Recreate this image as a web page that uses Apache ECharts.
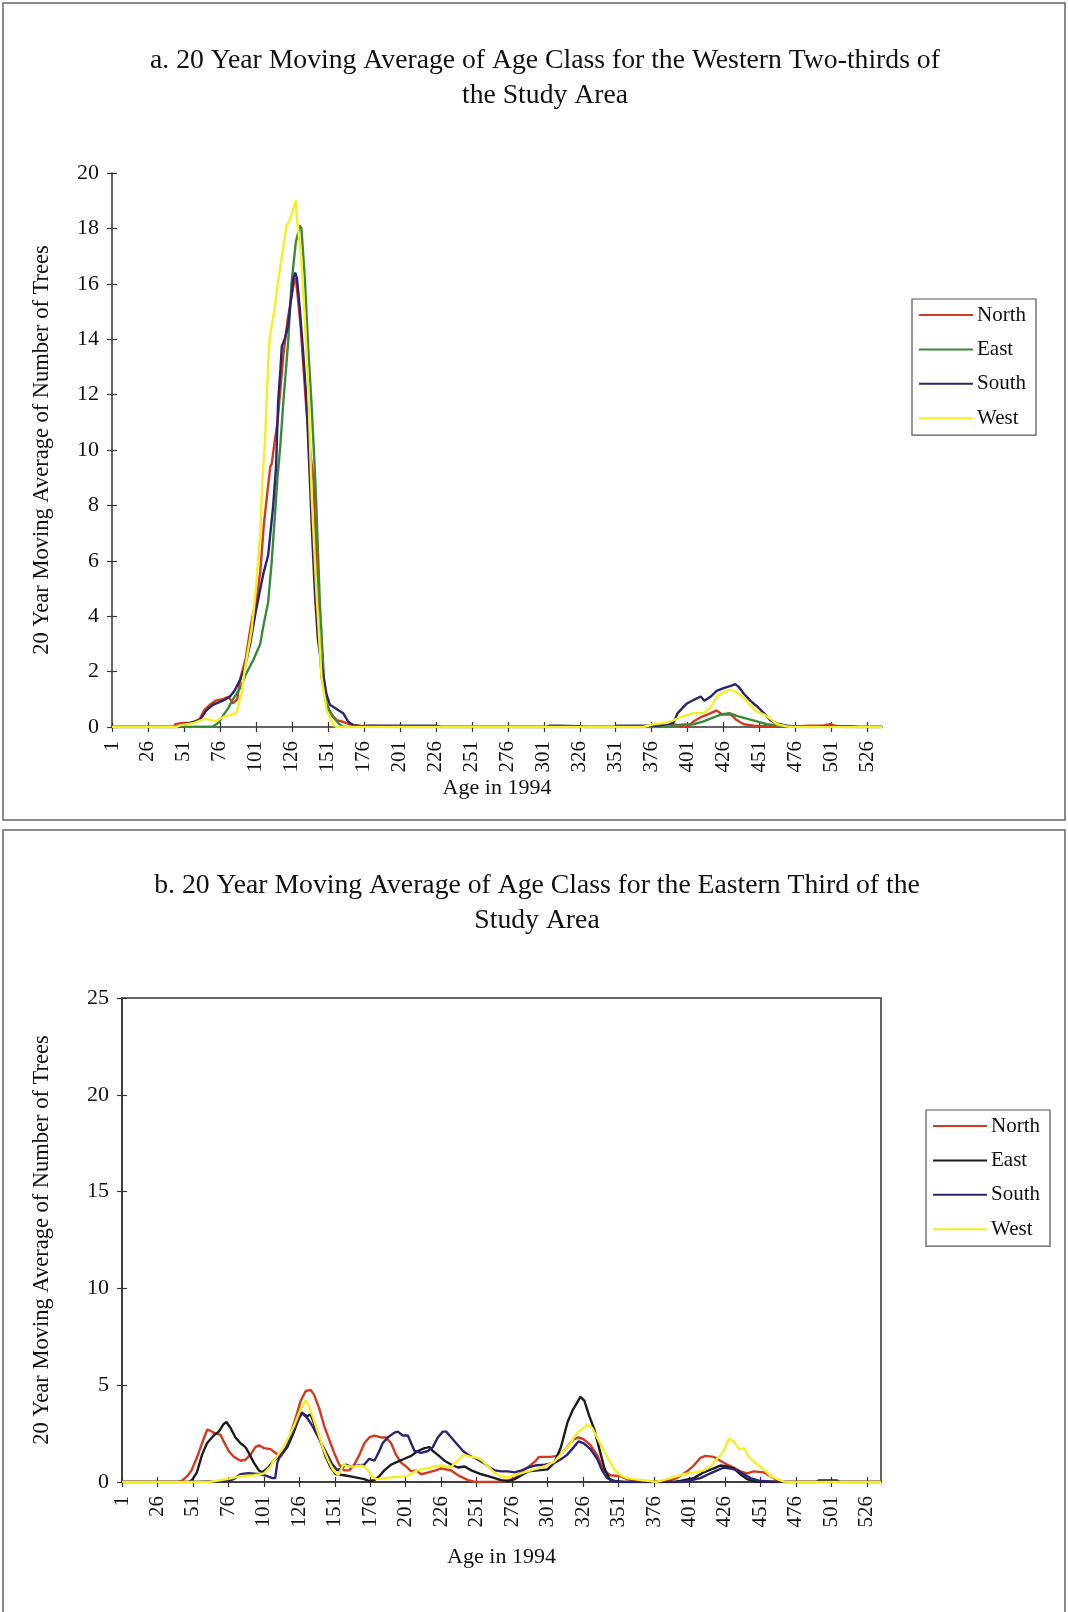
<!DOCTYPE html>
<html>
<head>
<meta charset="utf-8">
<script src="https://cdn.jsdelivr.net/npm/echarts@6/dist/echarts.min.js"></script>
<style>
  html, body { margin: 0; padding: 0; background: #ffffff; }
  #chart { width: 1068px; height: 1612px; }
</style>
</head>
<body>
<div id="chart"></div>
<script>
// ---- data: 20-year moving average of tree counts by age class, [age, value] ----
const ageTicks = [1, 26, 51, 76, 101, 126, 151, 176, 201, 226, 251, 276, 301, 326, 351, 376, 401, 426, 451, 476, 501, 526];
const seriesNames = ['North', 'East', 'South', 'West'];

// a. Western two-thirds of the study area
const aNorth = [[1,0],[44,0],[45,0.1],[50,0.15],[57,0.15],[62,0.3],[65,0.6],[69,0.8],[73,0.95],[78,1.0],[82,1.1],[85,0.85],[88,1.0],[90,1.7],[94,2.5],[97,3.5],[99,4.1],[102,4.8],[104,5.6],[106.5,7.3],[109,8.5],[111,9.4],[112,9.5],[114,10.3],[116,11.0],[120,13.4],[123,14.7],[126,15.6],[128,16.2],[129,16.1],[132,14.5],[136,11.5],[139,9.8],[141,8.9],[143,6.0],[144.5,3.6],[146.6,1.8],[150,0.8],[153,0.5],[157,0.25],[162,0.18],[166,0.1],[173,0.05],[200,0.02],[210,0],[380,0],[382,0.05],[387,0.15],[391,0.1],[395,0.05],[401,0],[405,0.2],[410,0.35],[417,0.5],[421,0.6],[425,0.45],[431,0.45],[435,0.25],[440,0.1],[447,0.05],[456,0.03],[470,0],[485,0.05],[495,0.05],[500,0.1],[503,0.05],[510,0],[536,0]];
const aEast = [[1,0],[52,0],[53,0.02],[71,0.02],[75,0.15],[78,0.4],[82,0.7],[85,1.0],[90,1.4],[94,1.9],[99,2.4],[104,3.0],[106,3.6],[109.5,4.5],[112,6.0],[114,7.5],[116,9.0],[118,10.2],[120,11.7],[123.4,13.9],[125.7,16.0],[128.7,17.5],[131.5,18.1],[132.6,18.0],[135,16.2],[137.3,13.7],[139.6,11.7],[141.9,9.3],[143,7.95],[145.4,4.5],[148.2,1.8],[150,0.85],[152,0.6],[154.7,0.35],[159,0.1],[162,0],[386,0],[387,0.02],[396,0.08],[405,0.1],[412,0.2],[419,0.35],[424,0.45],[430,0.5],[435,0.4],[442,0.3],[449,0.2],[456,0.1],[465,0.05],[475,0],[536,0]];
const aSouth = [[1,0],[47,0],[48,0.05],[55,0.15],[62,0.25],[66.6,0.6],[71,0.8],[78,0.95],[83,1.1],[86,1.3],[90,1.7],[93,2.1],[97,3.0],[101,4.2],[106,5.5],[109.5,6.2],[113,8.0],[115,9.4],[116.4,11.7],[118,12.9],[119,13.75],[121,14.0],[123.4,14.5],[124.6,15.1],[127,16.2],[128.3,16.4],[129.5,16.2],[131.5,15.1],[134,13.4],[136.2,11.7],[138,9.5],[140,7.0],[142,4.8],[144,3.2],[146.6,2.2],[150,1.2],[152.4,0.8],[157,0.65],[161.6,0.5],[165,0.2],[168.6,0.06],[175,0.03],[180,0.05],[225,0.05],[230,0],[303,0],[305,0.05],[310,0.05],[326,0.03],[330,0],[350,0],[352,0.05],[380,0.05],[387,0.1],[391,0.15],[394,0.5],[400.5,0.85],[406,1.0],[410,1.1],[412.6,0.95],[417,1.1],[421,1.3],[426,1.4],[432,1.5],[434,1.55],[436.4,1.45],[440,1.2],[444.5,0.95],[449,0.75],[454,0.5],[458.4,0.25],[463,0.12],[470,0.05],[475,0.02],[490,0],[495,0.03],[515,0.03],[520,0],[536,0]];
const aWest = [[1,0],[46,0],[48,0.05],[58,0.15],[66,0.3],[73,0.2],[78,0.35],[84,0.45],[87.5,0.5],[91,1.2],[93,2.0],[98,3.5],[101,5.0],[104,7.0],[105.6,9.0],[107.2,10.2],[109.6,13.2],[110.7,14.1],[114,15.1],[117,16.3],[120,17.3],[122.2,18.1],[124.6,18.3],[128.7,19.0],[129.6,18.3],[132.2,17.1],[135,14.7],[137.3,12.3],[139.7,8.4],[143.1,4.8],[146.6,1.8],[150.1,0.6],[154.7,0.07],[157,0],[370,0],[377,0.1],[386.6,0.15],[393.6,0.3],[396,0.36],[405,0.5],[412,0.5],[416.7,0.7],[421.4,1.1],[426,1.25],[430.6,1.35],[433,1.3],[436.4,1.2],[440,1.05],[444.5,0.8],[449,0.55],[454,0.45],[458.4,0.3],[463,0.1],[470,0.02],[475,0],[536,0]];

// b. Eastern third of the study area
const bNorth = [[1,0],[40,0],[43,0.05],[47,0.3],[50,0.6],[54,1.3],[57.4,2.0],[61,2.7],[63.3,2.65],[66.8,2.5],[70.3,2.45],[72.7,2.1],[76.2,1.6],[79.8,1.3],[84.5,1.1],[88,1.15],[91.6,1.4],[95,1.8],[97.5,1.9],[101,1.75],[105.7,1.7],[109.3,1.5],[112.8,1.3],[116.3,1.7],[119.9,2.5],[123.4,3.3],[127,4.2],[130.5,4.7],[134,4.75],[136.4,4.5],[140,3.8],[143.5,2.9],[147,2.2],[150.6,1.5],[154.1,0.9],[157.6,0.6],[161.2,0.6],[164.7,0.9],[168.3,1.4],[171.8,2.0],[175.3,2.3],[178.9,2.4],[183.6,2.3],[187.1,2.3],[190.7,2.0],[194.2,1.4],[197.7,1.0],[201.3,0.8],[204.8,0.55],[208.3,0.6],[212,0.4],[217,0.5],[222,0.6],[226,0.7],[233,0.6],[239,0.3],[245,0.1],[250,0],[264,0],[272,0.05],[278,0.2],[282,0.5],[287,0.75],[292,1.05],[295,1.3],[303,1.3],[307.7,1.35],[311.2,1.5],[314.7,1.8],[319.4,2.2],[322.9,2.3],[326.5,2.2],[331.2,1.9],[335.9,1.4],[340.6,0.6],[345.3,0.35],[352.3,0.3],[357,0.15],[366.4,0.05],[375.8,0],[385.2,0.05],[392.2,0.2],[399.3,0.55],[404,0.85],[408.7,1.25],[412.2,1.35],[418.1,1.3],[422.8,1.1],[427.5,0.9],[432.2,0.75],[436.9,0.55],[441.6,0.45],[446.3,0.55],[453.3,0.5],[458,0.3],[462.7,0.1],[467.4,0],[536,0]];
const bEast = [[1,0],[48,0],[50.3,0.1],[53.8,0.5],[57.4,1.4],[60.9,2.0],[65.6,2.4],[69.2,2.6],[72.7,3.0],[74.6,3.1],[77.4,2.8],[81,2.3],[84.5,2.0],[88,1.8],[90.4,1.5],[93.9,1.0],[97.5,0.6],[99.8,0.5],[103.4,0.7],[108.1,1.1],[112.8,1.4],[117.5,1.8],[122.2,2.6],[125.7,3.3],[128.1,3.55],[131.6,3.4],[134,3.5],[137.5,2.8],[141,2.1],[144.6,1.3],[148.1,0.75],[151.7,0.4],[157.6,0.35],[164.7,0.25],[171.8,0.15],[175.3,0.05],[178.9,0.1],[182.4,0.3],[185.9,0.6],[190.7,0.9],[195.4,1.05],[200.1,1.2],[204.8,1.35],[209.5,1.6],[214.2,1.75],[217.7,1.8],[220.1,1.6],[223.6,1.4],[228.3,1.1],[233.1,0.9],[237.8,0.75],[242.5,0.8],[247.2,0.6],[254.3,0.4],[259,0.3],[263.7,0.2],[268.4,0.1],[273.1,0.05],[277.8,0.15],[282.6,0.35],[287.3,0.55],[294.3,0.6],[301,0.65],[305.7,1.0],[310.4,1.8],[315.1,3.1],[318.6,3.7],[324.1,4.4],[326.9,4.2],[330.4,3.4],[334,2.7],[337.5,1.7],[341.1,0.7],[344.6,0.15],[348.1,0.05],[355,0],[390,0],[394.6,0.05],[404,0.2],[411,0.5],[418.1,0.7],[422.8,0.85],[427.5,0.8],[432.2,0.7],[436.9,0.4],[441.6,0.15],[446.3,0.05],[450,0],[490,0],[492,0.08],[505,0.08],[507,0],[536,0]];
const bSouth = [[1,0],[49,0],[50,0.03],[75,0.05],[79.8,0.15],[84.5,0.4],[90,0.45],[98.6,0.4],[103.4,0.3],[106.9,0.2],[109,0.2],[110.5,1.0],[112.8,1.4],[117.5,1.9],[122.2,2.7],[125.7,3.3],[127.6,3.6],[131.6,3.3],[135.2,2.9],[138.7,2.4],[142.2,1.9],[145.8,1.4],[149.3,0.9],[152.9,0.6],[156.4,0.75],[158.8,0.9],[162.3,0.8],[167.1,0.85],[171.8,0.9],[175.3,1.2],[178.9,1.1],[182.4,1.6],[184.7,2.0],[188.3,2.3],[193,2.55],[195.4,2.6],[198.9,2.4],[202.5,2.4],[204.8,2.0],[207.2,1.6],[211.9,1.5],[216.6,1.6],[220.1,1.8],[223.6,2.3],[227.2,2.6],[229.5,2.6],[233.1,2.3],[236.6,2.0],[241.4,1.6],[246.1,1.35],[250.8,1.2],[255.5,1.0],[260.2,0.75],[263.7,0.6],[268.4,0.55],[273.1,0.55],[277.8,0.5],[282.6,0.6],[287.3,0.75],[292,0.85],[299,0.9],[306.2,1.0],[310.9,1.2],[314.7,1.4],[319.4,1.8],[322.9,2.1],[326.5,2.0],[331.2,1.7],[335.9,1.2],[339.4,0.6],[343,0.2],[347.6,0.05],[352,0],[395,0],[399.3,0.05],[408.7,0.2],[415.8,0.45],[420.5,0.6],[425.2,0.75],[429.9,0.7],[434.6,0.6],[439.3,0.4],[444,0.2],[451,0.05],[462.7,0.02],[468,0],[536,0]];
const bWest = [[1,0],[62,0],[63.3,0.02],[75,0.15],[84.5,0.3],[93.9,0.35],[98.6,0.4],[101,0.45],[105.7,0.8],[108,1.1],[115,1.8],[122,2.85],[126.6,3.7],[130.3,4.2],[132.4,4.0],[135.8,3.3],[139.4,2.5],[142.9,1.7],[146.5,1.1],[150,0.6],[153.5,0.35],[157.1,0.9],[160.6,0.8],[165.3,0.8],[170,0.85],[173.6,0.7],[177.1,0.25],[180.6,0.15],[192.4,0.25],[201.9,0.3],[209,0.6],[218.4,0.75],[225.5,0.85],[232.6,0.75],[237.4,1.1],[242.1,1.4],[246.8,1.3],[251.5,1.25],[255,1.1],[259.7,0.75],[263.3,0.5],[268,0.3],[272.7,0.22],[277.4,0.35],[284.5,0.5],[291.6,0.65],[298.7,0.8],[305.7,1.05],[310.5,1.45],[317.5,2.0],[319.4,2.3],[322.9,2.6],[326.5,2.8],[329.3,2.95],[332.3,2.8],[335.9,2.3],[339.4,1.8],[343,1.3],[347.6,0.7],[352.3,0.35],[357,0.2],[366.4,0.1],[373.4,0.05],[377,0],[382.8,0.1],[389.8,0.25],[396.9,0.4],[404,0.5],[411,0.6],[415.8,0.8],[420.5,1.2],[425.2,1.6],[428.8,2.25],[432.3,2.1],[435.9,1.7],[439.4,1.75],[442.9,1.3],[448.8,0.9],[453.5,0.65],[458.2,0.3],[462.9,0.15],[467.6,0.02],[472,0],[536,0]];

// ---- styling ----
const FONT = '"Liberation Serif", "Times New Roman", serif';
const INK = '#111111';
const AXIS = '#333333';
const AGE_MAX = 536;
const colorsA = ['#d23a22', '#3a8a3c', '#2c2470', '#f5ef24'];
const colorsB = ['#d23a22', '#1c1c1c', '#2c2470', '#f5ef24'];

const chart = echarts.init(document.getElementById('chart'), null, { renderer: 'canvas' });

function mainX(gridIndex, nameGap) {
  return {
    type: 'value', gridIndex, min: 1, max: AGE_MAX, position: 'bottom',
    axisLine: { show: true, onZero: false, lineStyle: { color: AXIS, width: 1.5 } },
    axisTick: { show: true, customValues: ageTicks, length: 5, lineStyle: { color: AXIS, width: 1.2 } },
    axisLabel: { show: true, customValues: ageTicks, rotate: 90, margin: 14, fontSize: 21, fontFamily: FONT, color: INK },
    splitLine: { show: false },
    name: 'Age in 1994', nameLocation: 'middle', nameGap, nameMoveOverlap: false,
    nameTextStyle: { fontSize: 22, fontFamily: FONT, color: INK }
  };
}
function innerX(gridIndex) {
  return {
    type: 'value', gridIndex, min: 1, max: AGE_MAX, position: 'bottom',
    axisLine: { show: false },
    axisTick: { show: true, inside: true, customValues: ageTicks, length: 5, lineStyle: { color: AXIS, width: 1.2 } },
    axisLabel: { show: false },
    splitLine: { show: false }
  };
}
function mainY(gridIndex, max, interval, nameGap) {
  return {
    type: 'value', gridIndex, min: 0, max, interval, position: 'left',
    axisLine: { show: true, lineStyle: { color: AXIS, width: 1.5 } },
    axisTick: { show: true, length: 5, lineStyle: { color: AXIS, width: 1.2 } },
    axisLabel: { margin: 13, fontSize: 22, fontFamily: FONT, color: INK },
    splitLine: { show: false },
    name: '20 Year Moving Average of Number of Trees', nameLocation: 'middle', nameGap, nameMoveOverlap: false,
    nameTextStyle: { fontSize: 22.5, fontFamily: FONT, color: INK }
  };
}
function innerY(gridIndex, max, interval) {
  return {
    type: 'value', gridIndex, min: 0, max, interval, position: 'left',
    axisLine: { show: false },
    axisTick: { show: true, inside: true, length: 5, lineStyle: { color: AXIS, width: 1.2 } },
    axisLabel: { show: false },
    splitLine: { show: false }
  };
}
function line(name, data, color, xIdx, yIdx) {
  return {
    type: 'line', name, data, xAxisIndex: xIdx, yAxisIndex: yIdx,
    showSymbol: false, symbol: 'none', smooth: false,
    lineStyle: { color, width: 2.4 }, itemStyle: { color },
    emphasis: { disabled: true }
  };
}
function legend(left, top, colors) {
  return {
    orient: 'vertical', left, top,
    padding: [5, 10, 6, 7], itemGap: 12.4,
    itemWidth: 54, itemHeight: 2, icon: 'rect',
    backgroundColor: '#ffffff', borderColor: '#555555', borderWidth: 1.2, borderRadius: 0,
    textStyle: { fontSize: 21, fontFamily: FONT, color: INK, lineHeight: 22, padding: [0, 0, 0, -1] },
    selectedMode: false,
    data: seriesNames.map((n, i) => ({ name: n, itemStyle: { color: colors[i] } }))
  };
}

const seriesA = [aNorth, aEast, aSouth, aWest];
const seriesB = [bNorth, bEast, bSouth, bWest];

chart.setOption({
  animation: false,
  backgroundColor: '#ffffff',
  grid: [
    { left: 112, top: 173, width: 770, height: 554, show: false, outerBoundsMode: 'none' },
    { left: 122, top: 998, width: 759, height: 484, show: true, borderColor: AXIS, borderWidth: 1.5, outerBoundsMode: 'none' }
  ],
  xAxis: [mainX(0, 50), innerX(0), mainX(1, 64), innerX(1)],
  yAxis: [mainY(0, 20, 2, 58), innerY(0, 20, 2), mainY(1, 25, 5, 68), innerY(1, 25, 5)],
  legend: [legend(912, 299, colorsA), legend(926, 1110, colorsB)],
  graphic: [
    { type: 'rect', z: -10, silent: true, shape: { x: 3, y: 3, width: 1062, height: 817 },
      style: { fill: 'none', stroke: '#666666', lineWidth: 1.5 } },
    { type: 'rect', z: -10, silent: true, shape: { x: 3, y: 830, width: 1062, height: 820 },
      style: { fill: 'none', stroke: '#666666', lineWidth: 1.5 } },
    { type: 'text', x: 545, y: 78, silent: true,
      style: { text: 'a. 20 Year Moving Average of Age Class for the Western Two-thirds of\nthe Study Area',
        fontSize: 27.7, fontFamily: FONT, fill: INK, align: 'center', verticalAlign: 'middle', lineHeight: 35 } },
    { type: 'text', x: 537, y: 903, silent: true,
      style: { text: 'b. 20 Year Moving Average of Age Class for the Eastern Third of the\nStudy Area',
        fontSize: 27.7, fontFamily: FONT, fill: INK, align: 'center', verticalAlign: 'middle', lineHeight: 35 } }
  ],
  series: [
    ...seriesA.map((d, i) => line(seriesNames[i], d, colorsA[i], 0, 0)),
    ...seriesB.map((d, i) => line(seriesNames[i], d, colorsB[i], 2, 2))
  ]
});
</script>
</body>
</html>
